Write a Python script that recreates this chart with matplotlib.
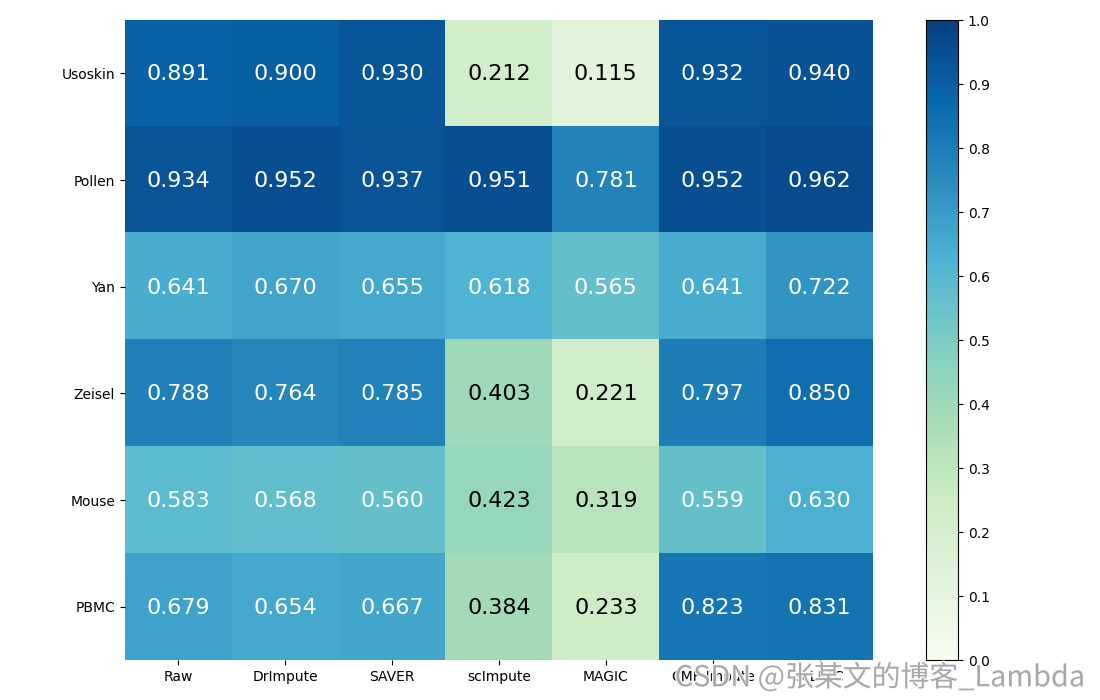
import matplotlib
matplotlib.use("Agg")
import matplotlib.pyplot as plt
import matplotlib.patheffects as pe
import numpy as np

# Data
datasets = ["Usoskin", "Pollen", "Yan", "Zeisel", "Mouse", "PBMC"]
methods = ["Raw", "DrImpute", "SAVER", "scImpute", "MAGIC", "CMF-Impute", "scLRTC"]

usoskin = [0.891, 0.900, 0.930, 0.212, 0.115, 0.932, 0.940]
pollen = [0.934, 0.952, 0.937, 0.951, 0.781, 0.952, 0.962]
yan = [0.641, 0.670, 0.655, 0.618, 0.565, 0.641, 0.722]
zeisel = [0.788, 0.764, 0.785, 0.403, 0.221, 0.797, 0.850]
mouse = [0.583, 0.568, 0.560, 0.423, 0.319, 0.559, 0.630]
pbmc = [0.679, 0.654, 0.667, 0.384, 0.233, 0.823, 0.831]

scores = np.array([usoskin, pollen, yan, zeisel, mouse, pbmc])

fig = plt.figure(figsize=(11, 7), dpi=100)
ax = fig.add_axes([0.1136, 0.0571, 0.68, 0.9143])
cax = fig.add_axes([0.8418, 0.0571, 0.0291, 0.9143])

im = ax.imshow(scores, cmap="GnBu", vmin=0, vmax=1, aspect="auto")
for spine in ax.spines.values():
    spine.set_visible(False)

ax.set_xticks(np.arange(len(methods)))
ax.set_xticklabels(methods)
ax.set_yticks(np.arange(len(datasets)))
ax.set_yticklabels(datasets)
ax.tick_params(labelsize=10)

# Cell annotations
for i in range(len(datasets)):
    for j in range(len(methods)):
        v = scores[i, j]
        ax.text(j, i + 0.01, f"{v:.3f}", ha="center", va="center", fontsize=16,
                color="white" if v > 0.5 else "black")

cb = fig.colorbar(im, cax=cax, ticks=np.linspace(0, 1, 11))
cb.ax.tick_params(labelsize=10)

# Watermark (overlaps the x labels in the original too)
fig.text(0.986, 0.031, "CSDN @张某文的博客_Lambda", ha="right", va="center",
         fontsize=20.8, color="#a0a0a0", alpha=0.9,
         family=["Noto Sans CJK SC", "DejaVu Sans"],
         path_effects=[pe.withStroke(linewidth=2, foreground="white")])

plt.savefig("out.png", dpi=100)
plt.close()
